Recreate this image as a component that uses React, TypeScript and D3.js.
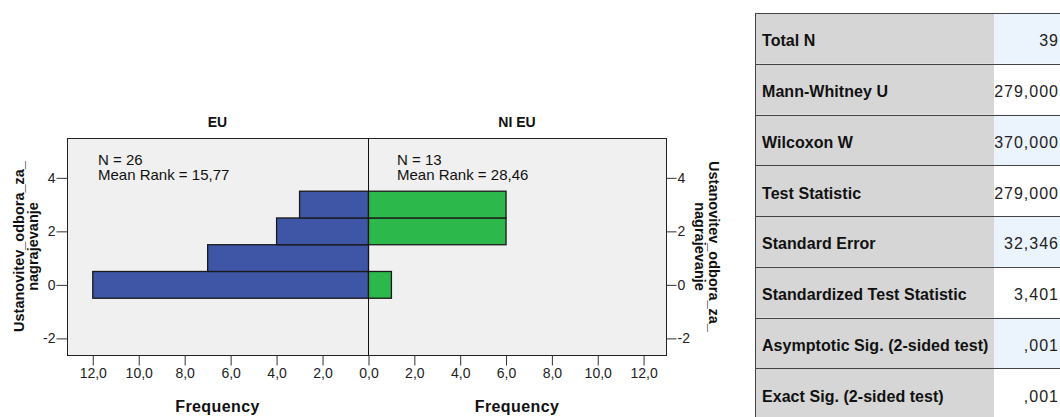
import React, { useEffect, useRef } from 'react';
import * as d3 from 'd3';

// rank bins (y) and frequencies per group
const rankValues = [0, 1, 2, 3];
const euFreq = [12, 7, 4, 3];
const niEuFreq = [1, 0, 6, 6];
const groupNames = ['EU', 'NI EU'];
const groupN = ['26', '13'];
const meanRanks = ['15,77', '28,46'];
const freqTicks = [0, 2, 4, 6, 8, 10, 12];
const rankTicks = [-2, 0, 2, 4];
const axisTitle = ['Ustanovitev_odbora_za_', 'nagrajevanje'];

// test summary table
const statLabels = [
  'Total N',
  'Mann-Whitney U',
  'Wilcoxon W',
  'Test Statistic',
  'Standard Error',
  'Standardized Test Statistic',
  'Asymptotic Sig. (2-sided test)',
  'Exact Sig. (2-sided test)',
];
const statValues = ['39', '279,000', '370,000', '279,000', '32,346', '3,401', ',001', ',001'];

const FONT = '"Liberation Sans", Arial, sans-serif';
const BLUE = '#3f55a6';
const GREEN = '#2db84b';

const fmt = (d: number) => d3.format('.1f')(d).replace('.', ',');

export default function App() {
  const svgRef = useRef<SVGSVGElement>(null);

  useEffect(() => {
    if (!svgRef.current) return;
    const svg = d3.select(svgRef.current);
    svg.selectAll('*').remove();

    const plot = { left: 67, right: 666, top: 138, bottom: 355, mid: 368 };

    const xl = d3.scaleLinear().domain([0, 13.1]).range([plot.mid, plot.left]);
    const xr = d3.scaleLinear().domain([0, 13]).range([plot.mid, plot.right]);
    const y = d3.scaleLinear().domain([-2.64, 5.47]).range([plot.bottom, plot.top]);

    // plot background
    svg.append('rect')
      .attr('x', plot.left + 0.5)
      .attr('y', plot.top + 0.5)
      .attr('width', plot.right - plot.left)
      .attr('height', plot.bottom - plot.top)
      .attr('fill', '#f0f0f0')
      .attr('stroke', '#222')
      .attr('stroke-width', 1);

    // bars
    const drawBars = (freq: number[], xs: d3.ScaleLinear<number, number>, color: string) => {
      svg.append('g')
        .selectAll('rect')
        .data(rankValues.map((r, i) => ({ r, f: freq[i] })).filter(d => d.f > 0))
        .join('rect')
        .attr('x', d => Math.min(xs(0), xs(d.f)) + 0.5)
        .attr('width', d => Math.abs(xs(d.f) - xs(0)))
        .attr('y', d => y(d.r + 0.5) + 0.5)
        .attr('height', d => y(d.r - 0.5) - y(d.r + 0.5))
        .attr('fill', color)
        .attr('stroke', '#1a1a1a')
        .attr('stroke-width', 1.3);
    };
    drawBars(euFreq, xl, BLUE);
    drawBars(niEuFreq, xr, GREEN);

    // center line
    svg.append('line')
      .attr('x1', plot.mid + 0.5).attr('x2', plot.mid + 0.5)
      .attr('y1', plot.top).attr('y2', plot.bottom)
      .attr('stroke', '#111');

    const styleAxis = (g: d3.Selection<SVGGElement, unknown, null, undefined>) => {
      g.select('.domain').remove();
      g.selectAll('line').attr('stroke', '#333');
      g.selectAll('text')
        .attr('fill', '#222')
        .style('font-family', FONT)
        .style('font-size', '14px');
    };

    // x axes
    svg.append('g')
      .attr('transform', `translate(0.5,${plot.bottom + 0.5})`)
      .call(d3.axisBottom(xl).tickValues(freqTicks).tickSize(10).tickPadding(3).tickFormat(d => fmt(+d)))
      .call(styleAxis);
    svg.append('g')
      .attr('transform', `translate(0.5,${plot.bottom + 0.5})`)
      .call(d3.axisBottom(xr).tickValues(freqTicks.slice(1)).tickSize(10).tickPadding(3).tickFormat(d => fmt(+d)))
      .call(styleAxis);

    // y axes
    svg.append('g')
      .attr('transform', `translate(${plot.left + 0.5},0.5)`)
      .call(d3.axisLeft(y).tickValues(rankTicks).tickSize(11).tickPadding(1).tickFormat(d => String(d)))
      .call(styleAxis);
    svg.append('g')
      .attr('transform', `translate(${plot.right + 0.5},0.5)`)
      .call(d3.axisRight(y).tickValues(rankTicks).tickSize(10).tickPadding(1).tickFormat(d => String(d)))
      .call(styleAxis);

    // panel titles and frequency labels
    const centers = [(plot.left + plot.mid) / 2, (plot.mid + plot.right) / 2];
    centers.forEach((cx, i) => {
      svg.append('text')
        .attr('x', cx).attr('y', 127)
        .attr('text-anchor', 'middle')
        .style('font-family', FONT).style('font-size', '14px').style('font-weight', 'bold')
        .attr('fill', '#111')
        .text(groupNames[i]);
      svg.append('text')
        .attr('x', cx).attr('y', 412)
        .attr('text-anchor', 'middle')
        .style('font-family', FONT).style('font-size', '16px').style('font-weight', 'bold')
        .style('letter-spacing', '0.4px')
        .attr('fill', '#111')
        .text('Frequency');
    });

    // N / mean rank annotations
    const annX = [98, 397];
    annX.forEach((ax, i) => {
      const t = svg.append('text')
        .style('font-family', FONT).style('font-size', '15px')
        .attr('fill', '#111');
      t.append('tspan').attr('x', ax).attr('y', 165).text(`N = ${groupN[i]}`);
      t.append('tspan').attr('x', ax).attr('y', 180).text(`Mean Rank = ${meanRanks[i]}`);
    });

    // y axis titles
    const yMid = (plot.top + plot.bottom) / 2;
    const leftTitle = svg.append('text')
      .attr('transform', `translate(24,${yMid}) rotate(-90)`)
      .attr('text-anchor', 'middle')
      .style('font-family', FONT).style('font-size', '14.5px').style('font-weight', 'bold')
      .attr('fill', '#111');
    axisTitle.forEach((s, i) => leftTitle.append('tspan').attr('x', 0).attr('y', i * 14).text(s));

    const rightTitle = svg.append('text')
      .attr('transform', `translate(709,${yMid}) rotate(90)`)
      .attr('text-anchor', 'middle')
      .style('font-family', FONT).style('font-size', '14.5px').style('font-weight', 'bold')
      .attr('fill', '#111');
    axisTitle.forEach((s, i) => rightTitle.append('tspan').attr('x', 0).attr('y', i * 14).text(s));

    // stats table
    const tbl = { left: 755, split: 994, right: 1062, top: 13, rowH: 50.75 };
    const rows = svg.append('g');
    statLabels.forEach((lab, i) => {
      const ry = tbl.top + i * tbl.rowH;
      rows.append('rect')
        .attr('x', tbl.left).attr('y', ry)
        .attr('width', tbl.split - tbl.left).attr('height', tbl.rowH)
        .attr('fill', '#d6d6d6');
      rows.append('rect')
        .attr('x', tbl.split).attr('y', ry)
        .attr('width', tbl.right - tbl.split).attr('height', tbl.rowH)
        .attr('fill', i % 2 === 0 ? '#ebf3fd' : '#ffffff');
      rows.append('text')
        .attr('x', 762).attr('y', ry + tbl.rowH / 2 + 8)
        .style('font-family', FONT).style('font-size', '16px').style('font-weight', 'bold')
        .style('letter-spacing', '0.05px')
        .attr('fill', '#111')
        .text(lab);
      rows.append('text')
        .attr('x', 1059).attr('y', ry + tbl.rowH / 2 + 8)
        .attr('text-anchor', 'end')
        .style('font-family', FONT).style('font-size', '16px')
        .style('letter-spacing', '1px')
        .attr('fill', '#222')
        .text(statValues[i]);
    });
    d3.range(statLabels.length + 1).forEach(i => {
      const ly = Math.round(tbl.top + i * tbl.rowH) + 0.5;
      rows.append('line')
        .attr('x1', tbl.left).attr('x2', tbl.right)
        .attr('y1', ly).attr('y2', ly)
        .attr('stroke', '#444');
    });
    rows.append('line')
      .attr('x1', tbl.left + 0.5).attr('x2', tbl.left + 0.5)
      .attr('y1', tbl.top).attr('y2', 430)
      .attr('stroke', '#444');
  }, []);

  return (
    <div style={{ position: 'absolute', left: 0, top: 0, background: '#fff' }}>
      <svg ref={svgRef} width={1060} height={417} style={{ display: 'block' }} />
    </div>
  );
}
